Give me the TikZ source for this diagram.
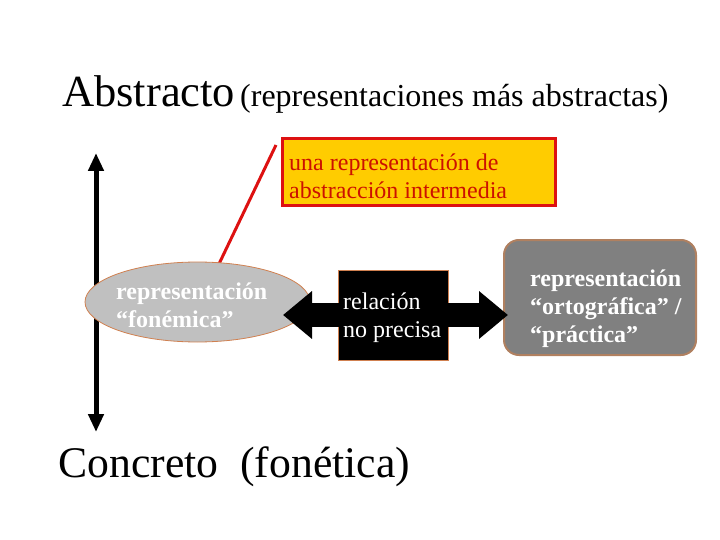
\documentclass[tikz,border=0pt]{standalone}
\usepackage{fontspec}
\setmainfont{Liberation Serif}
\usetikzlibrary{arrows.meta,shapes.geometric}
\definecolor{yel}{HTML}{FFCC00}
\definecolor{redb}{HTML}{DD1111}
\definecolor{redt}{HTML}{CC1100}
\definecolor{lgray}{HTML}{C0C0C0}
\definecolor{dgray}{HTML}{808080}
\definecolor{brownb}{HTML}{D08050}
\definecolor{tanb}{HTML}{B08060}
\tikzset{
  big/.style={font=\fontsize{44.5}{50}\selectfont, inner sep=0pt, anchor=base west},
  mid/.style={font=\fontsize{32}{36}\selectfont, inner sep=0pt, anchor=base west},
  body/.style={font=\fontsize{24}{28}\selectfont, align=left, inner sep=0pt, anchor=north west},
  bodyb/.style={font=\bfseries\fontsize{24}{28}\selectfont, align=left, inner sep=0pt, anchor=north west},
  fatarrow/.style={line width=24pt, -{Triangle[length=29pt,width=46pt]}},
}
\begin{document}
\begin{tikzpicture}[x=1pt,y=-1pt]
\useasboundingbox (0,0) rectangle (720,540);
% titles
\node[big] (abs) at (62,107) {Abstracto};
\node[mid] (absr) at (240,107) {(representaciones más abstractas)};
\node[big, font=\fontsize{43.7}{50}\selectfont] (con) at (58,477) {Concreto\ \ (fonética)};
% vertical arrow
\coordinate (vt) at (96,153);
\coordinate (vb) at (96,432);
\draw[line width=5pt, {Triangle[length=18pt,width=15pt]}-{Triangle[length=18pt,width=15pt]}] (vt) -- (vb);
% yellow box
\node[draw=redb, line width=3pt, fill=yel, minimum width=273pt, minimum height=67pt, inner sep=0pt] (yb) at (418.5,172.5) {};
\node[body, text=redt] (ybt) at (289,154) {una representación de\\abstracción intermedia};
% red line
\coordinate (rs) at (276,145);
\coordinate (re) at (218,266);
\draw[redb, line width=3pt] (rs) -- (re);
% ellipse
\node[ellipse, draw=brownb, line width=0.8pt, fill=lgray, minimum width=225pt, minimum height=80pt, inner sep=0pt] (fon) at (197.5,302) {};
\node[bodyb, text=white] (font) at (116,283) {representación\\“fonémica”};
% right rounded box
\node[rectangle, rounded corners=15pt, draw=tanb, line width=2pt, fill=dgray, minimum width=192pt, minimum height=115pt, inner sep=0pt] (ort) at (600,297.5) {};
\node[bodyb, text=white] (ortt) at (530,270) {representación\\“ortográfica” /\\“práctica”};
% black relation box and arrows
\node[rectangle, draw=brownb, line width=0.6pt, fill=black, minimum width=110pt, minimum height=90pt, inner sep=0pt] (rel) at (393,315) {};
\coordinate (lt) at (283,315);
\coordinate (rt) at (508,315);
\draw[fatarrow] (rel.center) -- (lt);
\draw[fatarrow] (rel.center) -- (rt);
\node[body, text=white] (relt) at (343,293) {relación\\no precisa};
\end{tikzpicture}
\end{document}
